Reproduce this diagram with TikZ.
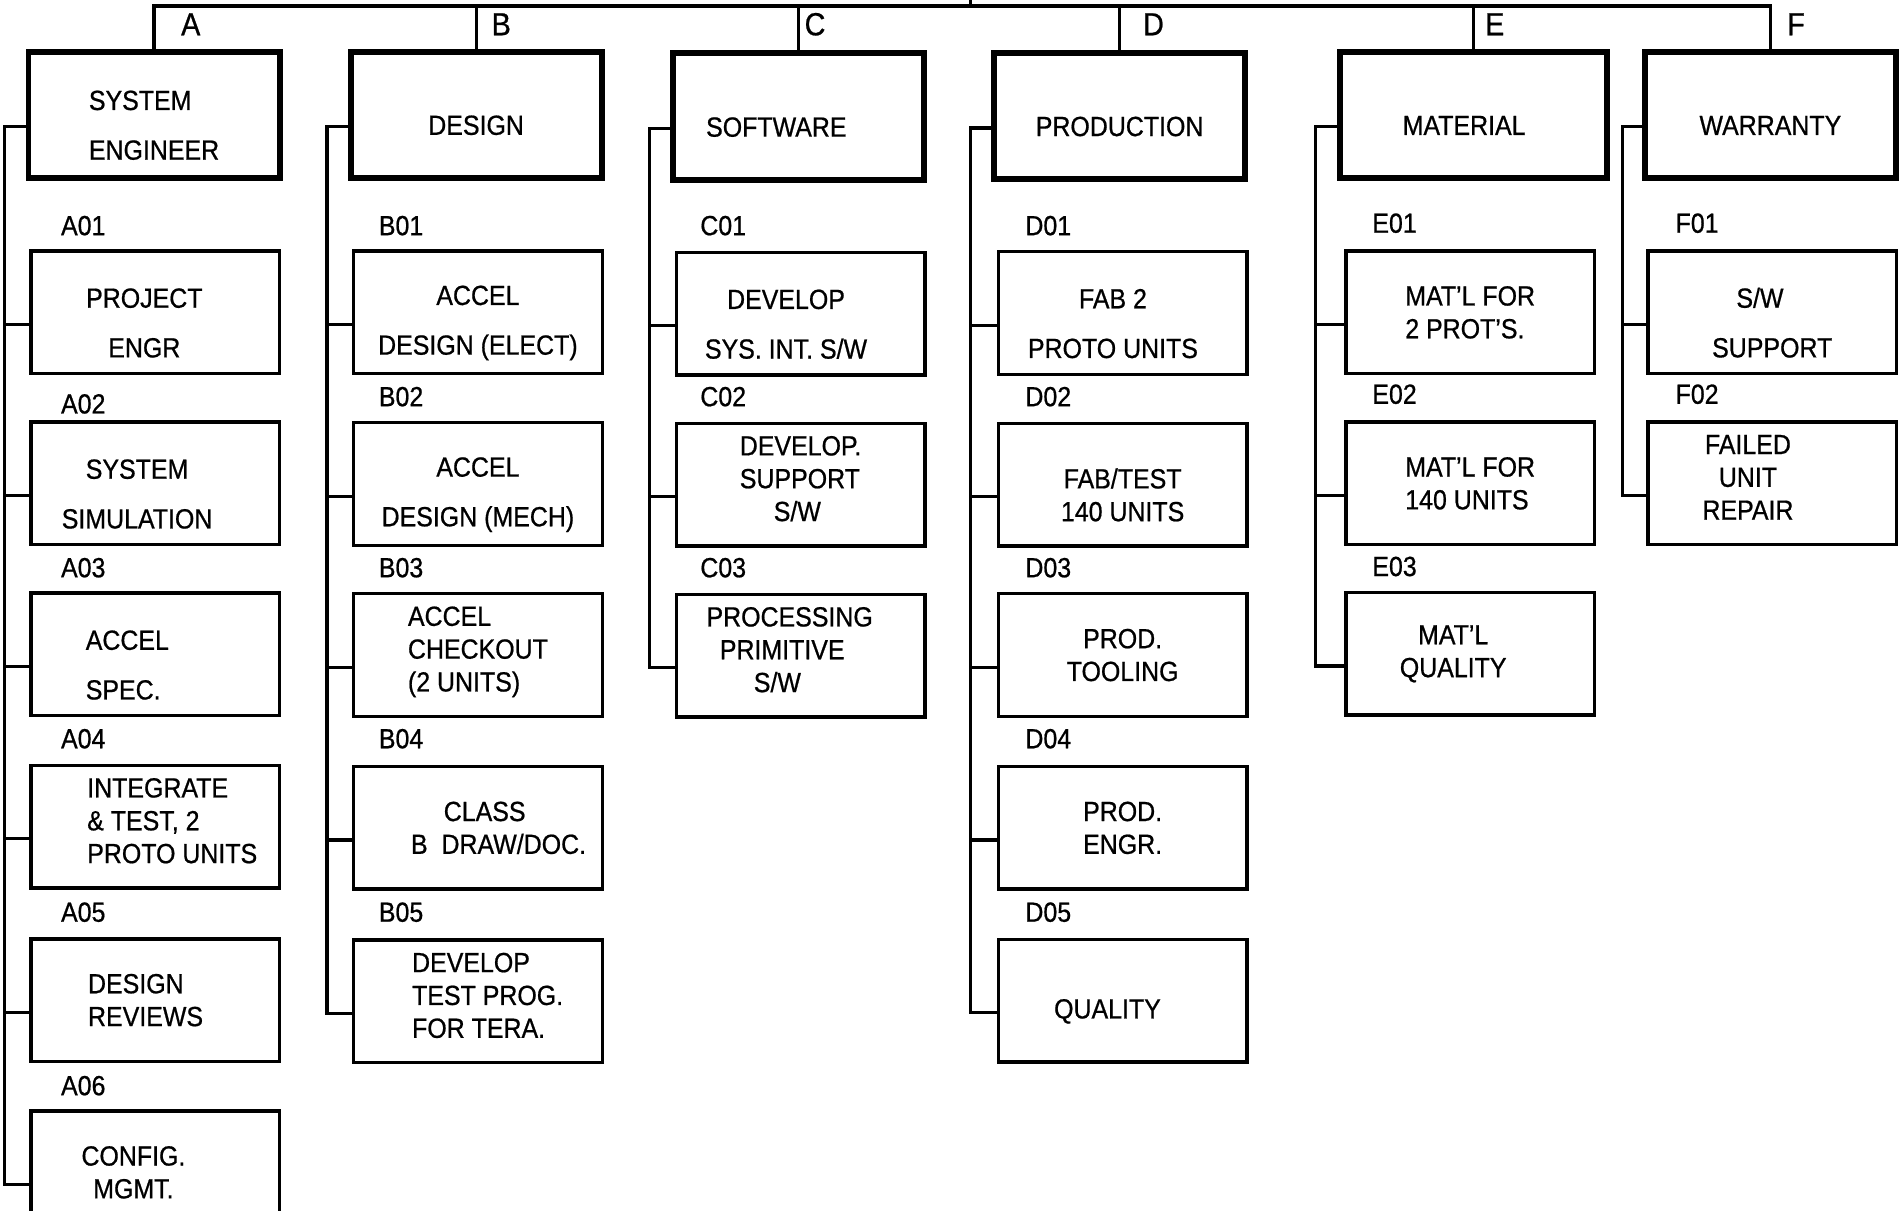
\documentclass[tikz,border=0pt]{standalone}
\usepackage{fontspec}
\setmainfont{Liberation Sans}[FakeStretch=0.9, FakeBold=0.7]

\newcommand{\tgap}[1]{\rule{#1}{0pt}}
\newcommand{\tdown}{\rule{0pt}{6.7mm}}
\newcommand{\tup}{\rule[-2mm]{0pt}{2mm}}

\begin{document}
\begin{tikzpicture}[
        x=0.2mm, y=-0.2mm,
        every node/.style={font=\fontsize{13}{15.4}\selectfont},
        head/.style={
            draw,
            line width=2.8pt,
            minimum width=41.4mm,
            minimum height=20.8mm,
            inner sep=0pt,
            align=center
        },
        item/.style={
            draw,
            line width=1.6pt,
            minimum width=41mm,
            minimum height=20.2mm,
            inner sep=0pt,
            align=center
        },
        code/.style={anchor=west, inner sep=0pt},
        tag/.style={anchor=west, inner sep=0pt, font=\fontsize{15}{18}\selectfont},
        link/.style={line width=1.5pt}
    ]

    \useasboundingbox (0,0) rectangle (1568,998);
    \clip (0,0) rectangle (1568,998);

    % Department heads
    \node[head, align=left] (hdrA) at (127,94.5) {\tdown SYSTEM\\[7.9pt]ENGINEER};
    \node[head] (hdrB) at (392.5,94.5) {\tdown DESIGN};
    \node[head] (hdrC) at (658.5,96) {\tdown SOFTWARE\tgap{7.4mm}};
    \node[head] (hdrD) at (923,95.5) {\tdown PRODUCTION};
    \node[head, minimum width=44mm] (hdrE) at (1215,94.5) {\tdown MATERIAL\tgap{3.2mm}};
    \node[head] (hdrF) at (1459.5,94.5) {\tdown WARRANTY};

    % Branch letters
    \node[tag] (la) at (149,20) {A};
    \node[tag] (lb) at (405,20) {B};
    \node[tag] (lc) at (663,20) {C};
    \node[tag] (ld) at (942,20) {D};
    \node[tag] (le) at (1224,20) {E};
    \node[tag] (lf) at (1473,20) {F};

    % Top bus
    \coordinate (root) at (800,5);
    \coordinate (top) at (800,-10);
    \draw[link] (root) -- (top);
    \draw[link] (hdrA.north) |- (root);
    \draw[link] (hdrB.north) |- (root);
    \draw[link] (hdrC.north) |- (root);
    \draw[link] (hdrD.north) |- (root);
    \draw[link] (hdrE.north) |- (root);
    \draw[link] (hdrF.north) |- (root);

    % Column A
    \node[item] (a01) at (128,257.5) {\tdown PROJECT\tgap{3.6mm}\\[7.9pt]ENGR\tgap{3.6mm}};
    \node[item] (a02) at (128,398.5) {\tdown SYSTEM\tgap{6mm}\\[7.9pt]SIMULATION\tgap{6mm}};
    \node[item, align=left] (a03) at (128,539.5) {\tdown ACCEL\tgap{9.2mm}\\[7.9pt]SPEC.};
    \node[item, align=left] (a04) at (128,681.5) {\tgap{5.6mm}INTEGRATE\\\tgap{5.6mm}\& TEST, 2\\\tgap{5.6mm}PROTO UNITS\tup};
    \node[item, align=left] (a05) at (128,824.5) {DESIGN\\REVIEWS\tgap{3.2mm}};
    \node[item] (a06) at (128,966.5) {CONFIG.\tgap{7.2mm}\\MGMT.\tgap{7.2mm}};

    \node[code] (ca01) at (50,186) {A01};
    \node[code] (ca02) at (50,333) {A02};
    \node[code] (ca03) at (50,468) {A03};
    \node[code] (ca04) at (50,609) {A04};
    \node[code] (ca05) at (50,752) {A05};
    \node[code] (ca06) at (50,895) {A06};

    % Column B
    \node[item] (b01) at (394,257.5) {\tdown ACCEL\\[7.9pt]DESIGN (ELECT)};
    \node[item] (b02) at (394,399) {\tdown ACCEL\\[7.9pt]DESIGN (MECH)};
    \node[item, align=left] (b03) at (394,540) {ACCEL\\CHECKOUT\\(2 UNITS)\tup};
    \node[item, align=left] (b04) at (394,682.5) {\tgap{12.2mm}CLASS\\\tgap{6.8mm}B~~DRAW/DOC.};
    \node[item, align=left] (b05) at (394,825.5) {\tgap{3.2mm}DEVELOP\\\tgap{3.2mm}TEST PROG.\\\tgap{3.2mm}FOR TERA.\tup};

    \node[code] (cb01) at (312,186) {B01};
    \node[code] (cb02) at (312,327) {B02};
    \node[code] (cb03) at (312,468) {B03};
    \node[code] (cb04) at (312,609) {B04};
    \node[code] (cb05) at (312,752) {B05};

    % Column C
    \node[item] (c01) at (660,258.5) {\tdown DEVELOP\tgap{4.8mm}\\[7.9pt]SYS. INT. S/W\tgap{4.8mm}};
    \node[item, align=left] (c02) at (660,399.5) {DEVELOP.\\SUPPORT\\\tgap{5.6mm}S/W\tup};
    \node[item, align=left] (c03) at (660,540.5) {PROCESSING\tgap{3.6mm}\\\tgap{2.2mm}PRIMITIVE\\\tgap{7.8mm}S/W\tup};

    \node[code] (cc01) at (577,186) {C01};
    \node[code] (cc02) at (577,327) {C02};
    \node[code] (cc03) at (577,468) {C03};

    % Column D
    \node[item] (d01) at (925.5,258) {\tdown FAB 2\tgap{3.2mm}\\[7.9pt]PROTO UNITS\tgap{3.2mm}};
    \node[item] (d02) at (925.5,399.5) {\tdown FAB/TEST\\140 UNITS};
    \node[item] (d03) at (925.5,540) {PROD.\\TOOLING};
    \node[item, align=left] (d04) at (925.5,682.5) {PROD.\\ENGR.};
    \node[item] (d05) at (925.5,825) {\tdown QUALITY\tgap{5mm}};

    \node[code] (cd01) at (845,186) {D01};
    \node[code] (cd02) at (845,327) {D02};
    \node[code] (cd03) at (845,468) {D03};
    \node[code] (cd04) at (845,609) {D04};
    \node[code] (cd05) at (845,752) {D05};

    % Column E
    \node[item, align=left] (e01) at (1212,257.5) {MAT'L FOR\\2 PROT'S.};
    \node[item, align=left] (e02) at (1212,398.5) {MAT'L FOR\\140 UNITS};
    \node[item] (e03) at (1212,539) {MAT'L\tgap{5.6mm}\\QUALITY\tgap{5.6mm}};

    \node[code] (ce01) at (1131,184) {E01};
    \node[code] (ce02) at (1131,325) {E02};
    \node[code] (ce03) at (1131,467) {E03};

    % Column F
    \node[item, align=left] (f01) at (1461,257.5) {\tdown\tgap{4mm}S/W\\[7.9pt]SUPPORT};
    \node[item] (f02) at (1461,398.5) {FAILED\tgap{8mm}\\UNIT\tgap{8mm}\\REPAIR\tgap{8mm}\tup};

    \node[code] (cf01) at (1381,184) {F01};
    \node[code] (cf02) at (1381,325) {F02};

    % Spines
    \coordinate (spA) at ([xshift=-3.4mm,yshift=-2mm]hdrA.west);
    \coordinate (spB) at ([xshift=-3.4mm,yshift=-2mm]hdrB.west);
    \coordinate (spC) at ([xshift=-3.4mm,yshift=-2mm]hdrC.west);
    \coordinate (spD) at ([xshift=-3.4mm,yshift=-2mm]hdrD.west);
    \coordinate (spE) at ([xshift=-3.6mm,yshift=-2mm]hdrE.west);
    \coordinate (spF) at ([xshift=-3.2mm,yshift=-2mm]hdrF.west);

    \draw[link] ([yshift=-2mm]a06.west) -| (spA) -- ([yshift=-2mm]hdrA.west);
    \draw[link] ([yshift=-2mm]b05.west) -| (spB) -- ([yshift=-2mm]hdrB.west);
    \draw[link] ([yshift=-2mm]c03.west) -| (spC) -- ([yshift=-2mm]hdrC.west);
    \draw[link] ([yshift=-2mm]d05.west) -| (spD) -- ([yshift=-2mm]hdrD.west);
    \draw[link] ([yshift=-2mm]e03.west) -| (spE) -- ([yshift=-2mm]hdrE.west);
    \draw[link] ([yshift=-2mm]f02.west) -| (spF) -- ([yshift=-2mm]hdrF.west);

    % Ticks
    \foreach \n in {a01,a02,a03,a04,a05}
        \draw[link] ([yshift=-2mm]\n.west) -| (spA);
    \foreach \n in {b01,b02,b03,b04}
        \draw[link] ([yshift=-2mm]\n.west) -| (spB);
    \foreach \n in {c01,c02}
        \draw[link] ([yshift=-2mm]\n.west) -| (spC);
    \foreach \n in {d01,d02,d03,d04}
        \draw[link] ([yshift=-2mm]\n.west) -| (spD);
    \foreach \n in {e01,e02}
        \draw[link] ([yshift=-2mm]\n.west) -| (spE);
    \draw[link] ([yshift=-2mm]f01.west) -| (spF);

\end{tikzpicture}
\end{document}
